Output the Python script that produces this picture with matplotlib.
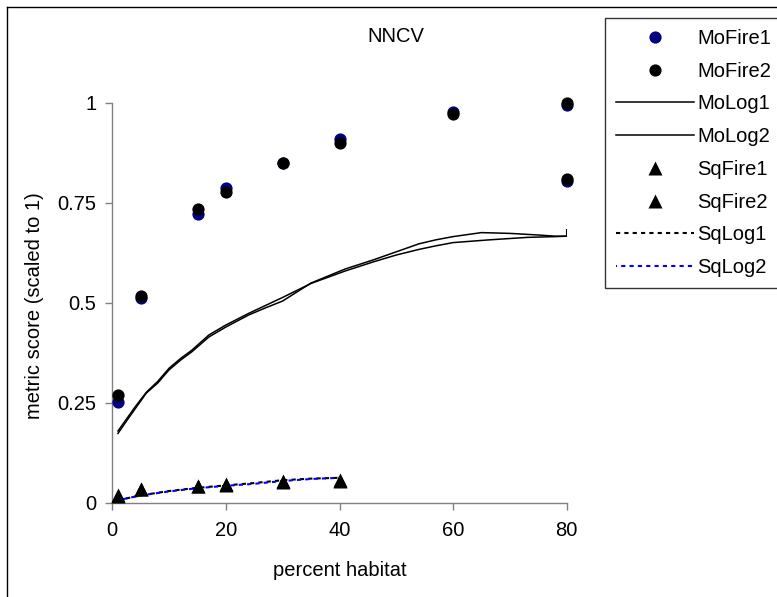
import matplotlib
matplotlib.use("Agg")
import matplotlib.pyplot as plt
from matplotlib.lines import Line2D

plt.rcParams['font.family'] = ['Liberation Sans', 'DejaVu Sans']

# Fire-based metric scores (two points at 80% habitat)
fire_x = [1, 5, 15, 20, 30, 40, 60, 80, 80]
mofire1 = [0.253, 0.513, 0.722, 0.787, 0.850, 0.910, 0.978, 0.994, 0.805]
mofire2 = [0.270, 0.518, 0.734, 0.778, 0.850, 0.901, 0.973, 1.000, 0.809]

# Logistic-model curves
molog1_x = [1, 2.5, 4, 6, 8, 10, 12, 14, 17, 20, 24, 27, 30, 35, 41, 46, 50, 54,
            57, 60, 65, 70, 75, 78, 80, 80]
molog1 = [0.174, 0.205, 0.235, 0.275, 0.300, 0.333, 0.357, 0.378, 0.415, 0.440,
          0.470, 0.488, 0.505, 0.550, 0.585, 0.608, 0.628, 0.648, 0.658, 0.666,
          0.676, 0.674, 0.670, 0.667, 0.667, 0.683]
molog2_x = [1, 2.5, 4, 6, 8, 10, 12, 14, 17, 20, 24, 27, 30, 35, 41, 46, 50, 54,
            57, 60, 66, 73, 78, 80]
molog2 = [0.180, 0.210, 0.240, 0.277, 0.304, 0.337, 0.361, 0.382, 0.420, 0.445,
          0.474, 0.494, 0.514, 0.549, 0.580, 0.603, 0.620, 0.634, 0.643, 0.651,
          0.6575, 0.664, 0.666, 0.667]

# Square-plot fire scores
sq_x = [1, 5, 15, 20, 30, 40]
sqfire1 = [0.018, 0.035, 0.0425, 0.046, 0.053, 0.056]
sqfire2 = [0.019, 0.035, 0.043, 0.047, 0.054, 0.057]

# Square-plot logistic curves
sqlog_x = [1, 5, 10, 15, 20, 25, 30, 35, 40]
sqlog1 = [0.007, 0.019, 0.030, 0.038, 0.044, 0.050, 0.057, 0.061, 0.063]
sqlog2 = [0.007, 0.019, 0.029, 0.037, 0.043, 0.048, 0.055, 0.060, 0.063]

x_ticks = [0, 20, 40, 60, 80]
y_ticks = [0, 0.25, 0.5, 0.75, 1]
y_tick_labels = ["0", "0.25", "0.5", "0.75", "1"]

W, H = 777, 597
fig = plt.figure(figsize=(W / 100, H / 100), dpi=100)
ax = fig.add_axes([112.3 / W, 1 - 503 / H, (566.7 - 112.3) / W, (503 - 103) / H])

FS = 14.5
axis_grey = "#808080"

ax.plot(fire_x, mofire1, "o", color="#000080", ms=8.8, mec="none",
        clip_on=False, label="MoFire1", zorder=4)
ax.plot(fire_x, mofire2, "o", color="black", ms=8.8, mec="none",
        clip_on=False, label="MoFire2", zorder=5)
ax.plot(molog1_x, molog1, "-", color="black", lw=1.1, label="MoLog1", zorder=3)
ax.plot(molog2_x, molog2, "-", color="black", lw=1.1, label="MoLog2", zorder=3)
ax.plot(sq_x, sqfire1, "^", color="black", ms=10, mec="none",
        clip_on=False, label="SqFire1", zorder=6)
ax.plot(sq_x, sqfire2, "^", color="black", ms=10, mec="none",
        clip_on=False, label="SqFire2", zorder=6)
ax.plot(sqlog_x, sqlog1, color="black", lw=1.5, ls=(0, (2, 2)),
        label="SqLog1", zorder=3)
ax.plot(sqlog_x, sqlog2, color="#0000ff", lw=1.5, ls=(1.5, (2, 2)),
        label="SqLog2", zorder=3)

ax.set_xlim(0, 80)
ax.set_ylim(0, 1)
ax.set_xticks(x_ticks)
ax.set_yticks(y_ticks)
ax.set_yticklabels(y_tick_labels)
for side in ("top", "right"):
    ax.spines[side].set_visible(False)
for side in ("left", "bottom"):
    ax.spines[side].set_color(axis_grey)
    ax.spines[side].set_linewidth(1.0)
ax.tick_params(axis="both", direction="out", length=5, width=1.0,
               color=axis_grey, labelsize=FS, labelcolor="black")
ax.tick_params(axis="x", pad=8)
ax.tick_params(axis="y", pad=6.5)
ax.patch.set_visible(False)

fig.text(339.5 / W, 1 - 570 / H, "percent habitat", ha="center", va="center",
         fontsize=FS)
fig.text(35 / W, 1 - 306 / H, "metric score (scaled to 1)", ha="center",
         va="center", rotation=90, fontsize=FS)
fig.text(396 / W, 1 - 37 / H, "NNCV", ha="center", va="center", fontsize=FS)

leg = fig.legend(loc="upper left", bbox_to_anchor=(605 / W, 1 - 18 / H),
                 bbox_transform=fig.transFigure, fontsize=FS, frameon=True,
                 fancybox=False, shadow=False, borderaxespad=0,
                 borderpad=0.55, handlelength=3.85, handletextpad=0.2,
                 labelspacing=0.68, numpoints=1)
leg.get_frame().set_edgecolor("black")
leg.get_frame().set_linewidth(1.0)

# Outer chart frame (runs off the right and bottom edges)
fig.add_artist(Line2D([6.5 / W, 6.5 / W], [0, 1 - 6.5 / H], color="black",
                      lw=1.0, transform=fig.transFigure))
fig.add_artist(Line2D([6.5 / W, 1], [1 - 6.5 / H, 1 - 6.5 / H], color="black",
                      lw=1.0, transform=fig.transFigure))

fig.savefig("out.png", dpi=100)
